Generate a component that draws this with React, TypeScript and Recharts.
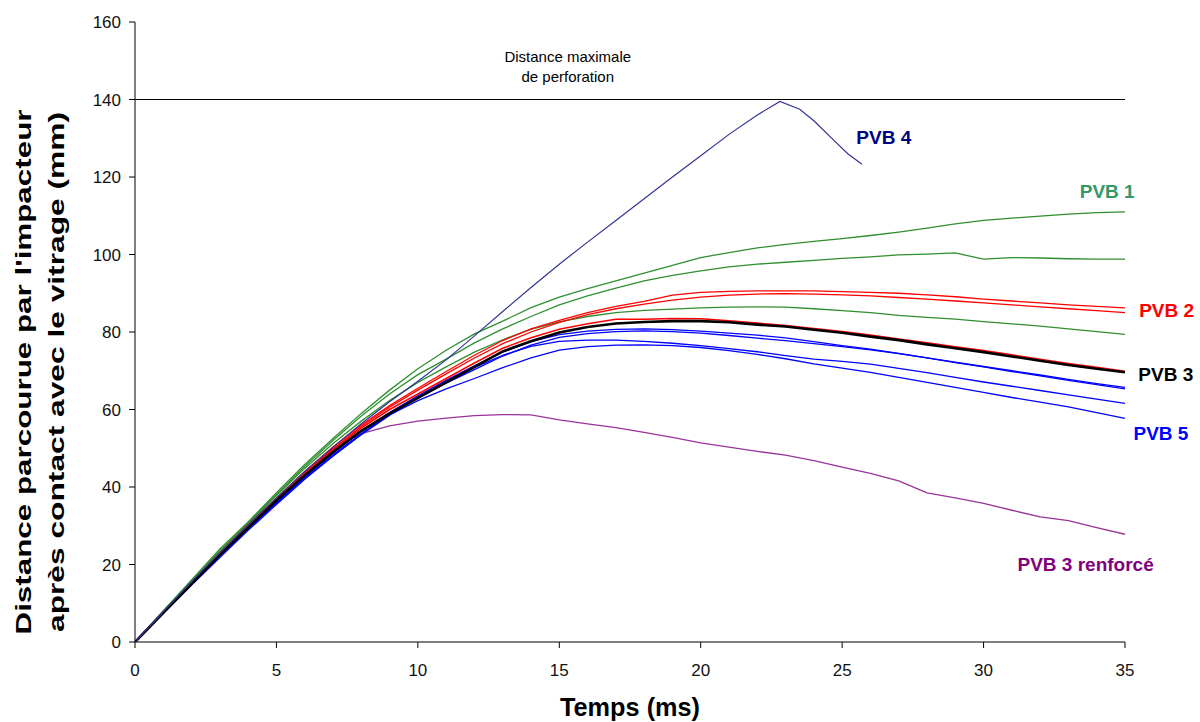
import { LineChart, Line, XAxis, YAxis, ReferenceLine, ReferenceDot } from "recharts";

// temps (ms), pas de 1 ms
const TIME = [
  0, 1, 2, 3, 4, 5, 6, 7, 8, 9, 10, 11, 12, 13, 14, 15, 16, 17, 18, 19, 20,
  21, 22, 23, 24, 25, 26, 27, 28, 29, 30, 31, 32, 33, 34, 35,
];

// PVB 4 s'arrete apres la perforation
const PVB4_TIME = [
  0, 1, 2, 3, 4, 5, 6, 7, 8, 9, 10, 11, 12, 13, 14, 15, 16, 17, 18, 19, 20,
  21, 22, 22.8, 23.5, 24, 24.7, 25.2, 25.7,
];
const PVB4 = [
  0, 7.8, 15.5, 23, 30.2, 37.2, 44, 50.3, 56.3, 62, 67.3, 72.8, 79, 85.3, 91.5,
  97.5, 103.2, 108.8, 114.4, 120, 125.5, 131, 136, 139.5, 137.5, 134.5, 129.5,
  126, 123.3,
];

const PVB1_A = [
  0, 8, 16, 24, 31, 38.5, 45.8, 52.5, 59, 65, 70.5, 75.3, 79.5, 82.8, 86.3, 89,
  91.2, 93.2, 95.2, 97.2, 99.2, 100.5, 101.7, 102.6, 103.4, 104.1, 104.9, 105.8,
  106.8, 107.9, 108.8, 109.4, 109.9, 110.4, 110.8, 111,
];
const PVB1_B = [
  0, 8, 15.8, 23.5, 30.8, 38, 45.3, 52, 58.3, 64, 69, 73, 77.2, 80.8, 84, 87,
  89.3, 91.3, 93.2, 94.6, 95.8, 96.8, 97.5, 98, 98.5, 99, 99.4, 99.9, 100.1,
  100.4, 98.8, 99.2, 99.1, 98.9, 98.8, 98.8,
];
const PVB1_C = [
  0, 7.8, 15.6, 23.3, 30.6, 37.8, 44.8, 51.2, 57, 62.3, 67, 71, 74.8, 78, 80.7,
  82.6, 84, 85, 85.6, 85.9, 86.2, 86.4, 86.5, 86.4, 86, 85.5, 85, 84.3, 83.8,
  83.3, 82.7, 82.1, 81.5, 80.8, 80.1, 79.4,
];

const PVB2_A = [
  0, 7.7, 15.4, 23, 30.2, 37.2, 44, 50.3, 56, 61, 65.5, 69.8, 74, 77.8, 80.8,
  83, 85, 86.6, 87.9, 89.5, 90.2, 90.5, 90.6, 90.6, 90.6, 90.4, 90.2, 90, 89.6,
  89.1, 88.5, 88, 87.5, 87, 86.6, 86.2,
];
const PVB2_B = [
  0, 7.6, 15.2, 22.8, 30, 36.9, 43.6, 49.9, 55.6, 60.6, 65, 69.2, 73.3, 77, 80,
  82.5, 84.5, 86, 87.2, 88.2, 89, 89.5, 89.8, 89.9, 89.8, 89.6, 89.3, 88.9,
  88.5, 88, 87.5, 87, 86.5, 86, 85.5, 85,
];
const PVB2_C = [
  0, 7.6, 15.2, 22.7, 29.8, 36.8, 43.4, 49.6, 55.2, 60, 64, 68, 72, 75.8, 78.5,
  80.7, 82.1, 83.3, 83.3, 83.5, 83.4, 82.9, 82.3, 81.7, 80.9, 80.1, 79.2, 78.2,
  77.2, 76.2, 75.2, 74.1, 73, 71.9, 70.9, 69.9,
];

const PVB3 = [
  0, 7.5, 15, 22.5, 29.5, 36.5, 43, 49, 54.5, 59, 63, 67, 71, 75, 77.6, 79.9,
  81.3, 82.2, 82.6, 82.8, 82.8, 82.5, 81.9, 81.4, 80.6, 79.8, 78.8, 77.9, 76.8,
  75.8, 74.8, 73.7, 72.6, 71.5, 70.5, 69.6,
];

const PVB5_A = [
  0, 7.8, 15.3, 22.6, 29.6, 36.4, 42.8, 48.8, 54.3, 59.2, 63.5, 67.5, 71.3,
  74.8, 77.5, 79.3, 80.2, 80.7, 80.8, 80.6, 80.2, 79.7, 79.2, 78.5, 77.5, 76.5,
  75.6, 74.5, 73.3, 72.1, 71, 69.8, 68.7, 67.5, 66.4, 65.3,
];
const PVB5_B = [
  0, 7.7, 15.2, 22.4, 29.3, 36, 42.4, 48.3, 53.8, 58.7, 63, 66.8, 70.3, 73.8,
  76.6, 78.6, 79.6, 80.1, 80.3, 80.1, 79.7, 79.1, 78.4, 77.8, 77, 76.2, 75.4,
  74.4, 73.3, 72.2, 71.1, 70, 68.9, 67.8, 66.7, 65.7,
];
const PVB5_C = [
  0, 7.6, 15, 22.2, 29.2, 35.8, 42.2, 48, 53.5, 58.5, 63, 67, 70.8, 74, 76.3,
  77.6, 77.9, 77.9, 77.6, 77.1, 76.5, 75.7, 74.9, 73.9, 73, 72.4, 71.7, 70.6,
  69.5, 68.3, 67.1, 66, 64.9, 63.8, 62.7, 61.6,
];
const PVB5_D = [
  0, 7.4, 14.7, 21.8, 28.8, 35.5, 42, 48, 53.6, 58.6, 62.3, 65.3, 68, 70.8,
  73.3, 75.3, 76.2, 76.6, 76.7, 76.5, 76, 75.2, 74.2, 73.1, 71.8, 70.7, 69.6,
  68.3, 67, 65.7, 64.4, 63.1, 61.9, 60.7, 59.2, 57.7,
];

const PVB3_RENF = [
  0, 7.6, 15.2, 22.6, 29.6, 36.5, 43.3, 50, 53.8, 55.8, 57, 57.8, 58.4, 58.7,
  58.6, 57.3, 56.3, 55.3, 54.1, 52.8, 51.4, 50.3, 49.2, 48.2, 46.8, 45.1, 43.5,
  41.6, 38.5, 37.2, 35.8, 34, 32.3, 31.3, 29.5, 27.8,
];

const X_TICKS = [0, 5, 10, 15, 20, 25, 30, 35];
const Y_TICKS = [0, 20, 40, 60, 80, 100, 120, 140, 160];
const MAX_DIST = 140;

const GREEN = "#2f8f2f";
const RED = "#ff0000";
const BLUE = "#0000ff";
const NAVY = "#333399";
const PURPLE = "#993399";

const zip = (t: number[], v: number[]) => t.map((x, i) => ({ t: x, v: v[i] }));

const SERIES = [
  { id: "renf", data: zip(TIME, PVB3_RENF), color: PURPLE, w: 1.3 },
  { id: "p5d", data: zip(TIME, PVB5_D), color: BLUE, w: 1.3 },
  { id: "p5c", data: zip(TIME, PVB5_C), color: BLUE, w: 1.3 },
  { id: "p5b", data: zip(TIME, PVB5_B), color: BLUE, w: 1.3 },
  { id: "p5a", data: zip(TIME, PVB5_A), color: BLUE, w: 1.3 },
  { id: "p1c", data: zip(TIME, PVB1_C), color: GREEN, w: 1.3 },
  { id: "p1b", data: zip(TIME, PVB1_B), color: GREEN, w: 1.3 },
  { id: "p1a", data: zip(TIME, PVB1_A), color: GREEN, w: 1.3 },
  { id: "p2b", data: zip(TIME, PVB2_B), color: RED, w: 1.3 },
  { id: "p2a", data: zip(TIME, PVB2_A), color: RED, w: 1.3 },
  { id: "p2c", data: zip(TIME, PVB2_C), color: RED, w: 1.5 },
  { id: "p3", data: zip(TIME, PVB3), color: "#000000", w: 2.6 },
  { id: "p4", data: zip(PVB4_TIME, PVB4), color: NAVY, w: 1.2 },
];

// etiquettes : position du debut du texte (ligne de base)
const TAGS = [
  { text: "PVB 4", x: 25.5, y: 128.5, color: "#000080" },
  { text: "PVB 1", x: 33.4, y: 114.5, color: "#339966" },
  { text: "PVB 2", x: 35.5, y: 83.9, color: "#ff0000" },
  { text: "PVB 3", x: 35.47, y: 67.4, color: "#000000" },
  { text: "PVB 5", x: 35.3, y: 52.1, color: "#0000ff" },
  { text: "PVB 3 renforcé", x: 31.2, y: 18.4, color: "#800080" },
];

const FONT = "'Liberation Sans', Arial, sans-serif";
const NARROW = "'Liberation Sans Narrow', 'Arial Narrow', 'Liberation Sans', Arial, sans-serif";

function tagContent(text: string, color: string) {
  return (props: any) => {
    const vb = props.viewBox || {};
    return (
      <text x={vb.x} y={vb.y} fill={color} fontSize={19} fontWeight="bold" fontFamily={FONT}>
        {text}
      </text>
    );
  };
}

function maxLabel(props: any) {
  const vb = props.viewBox || {};
  return (
    <g fontFamily={FONT} fontSize={15} fill="#000" textAnchor="middle">
      <text x={vb.x} y={vb.y - 38}>Distance maximale</text>
      <text x={vb.x} y={vb.y - 18}>de perforation</text>
    </g>
  );
}

function yLabel(props: any) {
  const cy = 372;
  return (
    <g fontFamily={NARROW} fontWeight="bold" fontSize={22} fill="#000">
      <text
        x={23}
        y={cy}
        transform={`rotate(-90, 23, ${cy})`}
        textAnchor="middle"
        dominantBaseline="central"
        textLength={525}
        lengthAdjust="spacingAndGlyphs"
      >
        Distance parcourue par l'impacteur
      </text>
      <text
        x={56}
        y={cy}
        transform={`rotate(-90, 56, ${cy})`}
        textAnchor="middle"
        dominantBaseline="central"
        textLength={520}
        lengthAdjust="spacingAndGlyphs"
      >
        après contact avec le vitrage (mm)
      </text>
    </g>
  );
}

function xLabel(props: any) {
  return (
    <text
      x={630}
      y={716}
      textAnchor="middle"
      fontFamily={NARROW}
      fontWeight="bold"
      fontSize={25}
      fill="#000"
      textLength={140}
      lengthAdjust="spacingAndGlyphs"
    >
      Temps (ms)
    </text>
  );
}

export default function App() {
  return (
    <div style={{ position: "absolute", left: 0, top: 0, background: "#fff" }}>
      <LineChart width={1200} height={722} margin={{ top: 22, right: 75, bottom: 0, left: 0 }}>
        <XAxis
          type="number"
          dataKey="t"
          domain={[0, 35]}
          ticks={X_TICKS}
          height={80}
          allowDataOverflow
          stroke="#000"
          tickSize={6}
          tickMargin={16}
          tick={{ fill: "#111", fontSize: 17, fontFamily: FONT }}
          label={{ content: xLabel }}
        />
        <YAxis
          type="number"
          domain={[0, 160]}
          ticks={Y_TICKS}
          width={135}
          allowDataOverflow
          stroke="#000"
          tickSize={6}
          tickMargin={8}
          tick={{ fill: "#111", fontSize: 17, fontFamily: FONT }}
          label={{ content: yLabel }}
        />
        <ReferenceLine y={MAX_DIST} stroke="#000" strokeWidth={1.2} />
        <ReferenceDot
          x={15.3}
          y={MAX_DIST}
          r={0}
          fill="none"
          stroke="none"
          ifOverflow="visible"
          label={{ content: maxLabel }}
        />
        {SERIES.map((s) => (
          <Line
            key={s.id}
            data={s.data}
            dataKey="v"
            type="linear"
            stroke={s.color}
            strokeWidth={s.w}
            dot={false}
            activeDot={false}
            isAnimationActive={false}
          />
        ))}
        {TAGS.map((tg) => (
          <ReferenceDot
            key={tg.text}
            x={tg.x}
            y={tg.y}
            r={0}
            fill="none"
            stroke="none"
            ifOverflow="visible"
            label={{ content: tagContent(tg.text, tg.color) }}
          />
        ))}
      </LineChart>
    </div>
  );
}
